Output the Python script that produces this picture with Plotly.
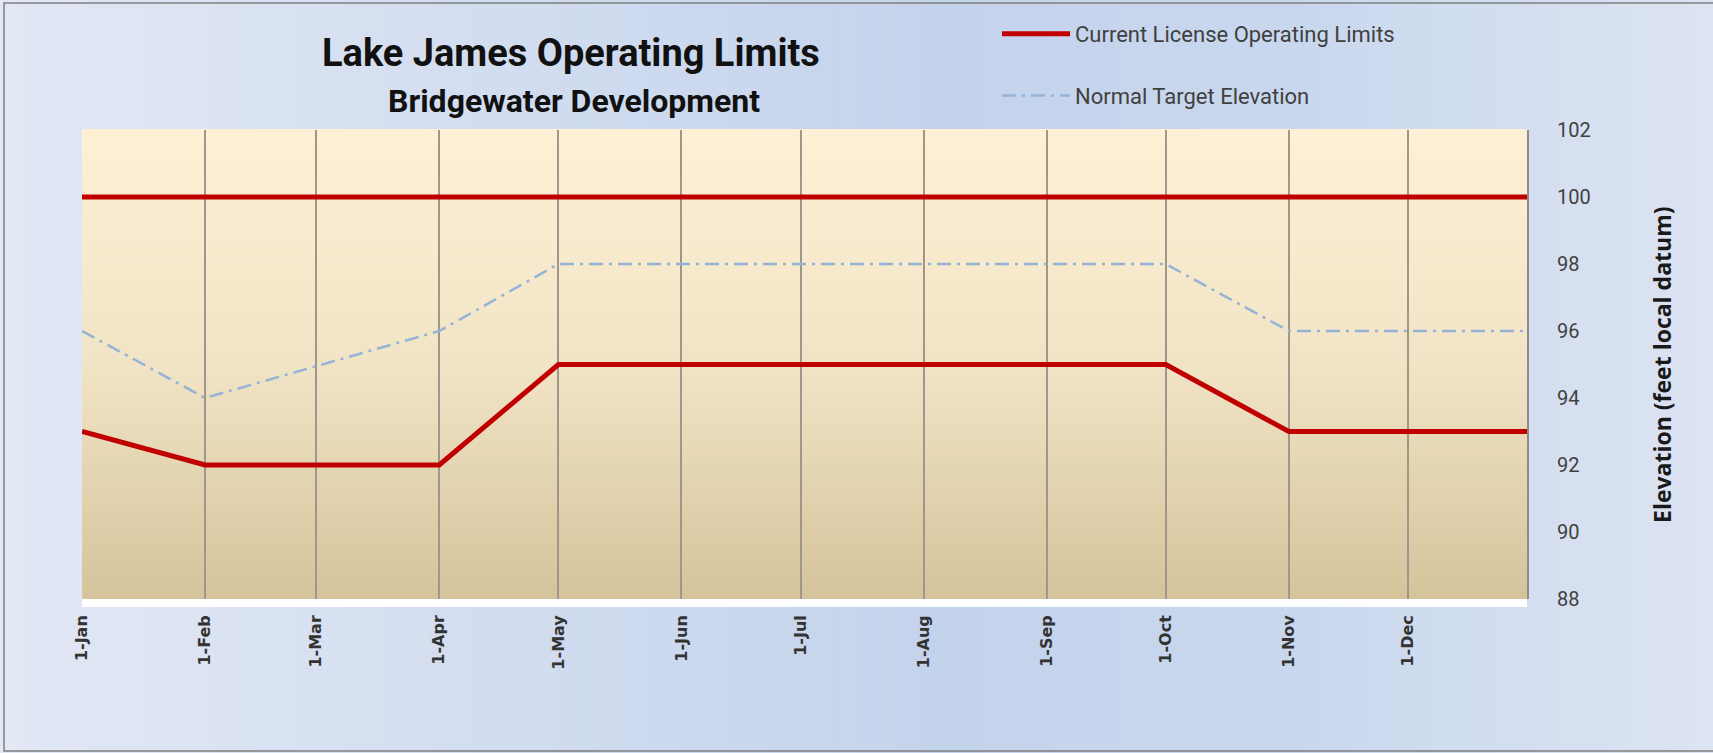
import plotly.graph_objects as go

# ---------------- data ----------------
upper_dates = ["2021-01-01", "2021-12-31"]
upper_vals = [100, 100]

lower_dates = ["2021-01-01", "2021-02-01", "2021-04-01", "2021-05-01",
               "2021-10-01", "2021-11-01", "2021-12-31"]
lower_vals = [93, 92, 92, 95, 95, 93, 93]

target_dates = ["2021-01-01", "2021-02-01", "2021-04-01", "2021-05-01",
                "2021-10-01", "2021-11-01", "2021-12-31"]
target_vals = [96, 94, 96, 98, 98, 96, 96]

y_ticks = [88, 90, 92, 94, 96, 98, 100, 102]

W, H = 1713, 753
ML, MR, MT, MB = 82, 186, 130, 154
PW, PH = W - ML - MR, H - MT - MB


def px_x(p):
    return (p - ML) / PW


def px_y(p):
    return (H - MB - p) / PH


def lerp(c1, c2, t):
    return "#%02x%02x%02x" % tuple(int(round(a + (b - a) * t)) for a, b in zip(c1, c2))


def hx(s):
    s = s.lstrip("#")
    return tuple(int(s[i:i + 2], 16) for i in (0, 2, 4))


shapes = []
# paper gradient (vertical bands)
stops = [(0.0, hx("#e2e8f4")), (0.55, hx("#c4d3ec")), (0.75, hx("#c9d7ee")), (1.0, hx("#dce4f2"))]
N = 80
for i in range(N):
    t0, t1 = i / N, (i + 1) / N
    tm = (t0 + t1) / 2
    for j in range(len(stops) - 1):
        if stops[j][0] <= tm <= stops[j + 1][0]:
            a, b = stops[j], stops[j + 1]
            col = lerp(a[1], b[1], (tm - a[0]) / (b[0] - a[0]))
            break
    shapes.append(dict(type="rect", xref="paper", yref="paper", layer="below",
                       x0=px_x(t0 * W), x1=px_x(t1 * W + 1), y0=px_y(H), y1=px_y(0),
                       fillcolor=col, line=dict(width=0)))

# white glow strip under plot
shapes.append(dict(type="rect", xref="paper", yref="paper", layer="below",
                   x0=0, x1=1, y0=px_y(607), y1=0,
                   fillcolor="#ffffff", line=dict(width=0)))

# plot area gradient (horizontal bands)
top_c, mid_c, bot_c = hx("#fdf0d5"), hx("#f1e4c6"), hx("#d5c39b")
M = 80
for i in range(M):
    t0, t1 = i / M, (i + 1) / M
    tm = (t0 + t1) / 2  # 0 bottom, 1 top
    if tm < 0.5:
        col = lerp(bot_c, mid_c, tm / 0.5)
    else:
        col = lerp(mid_c, top_c, (tm - 0.5) / 0.5)
    shapes.append(dict(type="rect", xref="paper", yref="paper", layer="below",
                       x0=0, x1=1, y0=t0, y1=t1 + 0.002,
                       fillcolor=col, line=dict(width=0)))

# outer frame
shapes.append(dict(type="rect", xref="paper", yref="paper", layer="above",
                   x0=px_x(4), x1=px_x(W + 5), y0=px_y(H - 2), y1=px_y(3),
                   fillcolor="rgba(0,0,0,0)", line=dict(color="#7f7f7f", width=1.5)))

fig = go.Figure()
red = "#c00000"
fig.add_trace(go.Scatter(x=upper_dates, y=upper_vals, mode="lines",
                         line=dict(color=red, width=5),
                         name="Current License Operating Limits",
                         legendgroup="a", showlegend=True))
fig.add_trace(go.Scatter(x=lower_dates, y=lower_vals, mode="lines",
                         line=dict(color=red, width=5),
                         name="Current License Operating Limits",
                         legendgroup="a", showlegend=False))
fig.add_trace(go.Scatter(x=target_dates, y=target_vals, mode="lines",
                         line=dict(color="#95b3d7", width=2.5, dash="14px,6px,3px,6px"),
                         name="Normal Target Elevation",
                         legendgroup="b", showlegend=True))

font_main = "Roboto, Liberation Sans, sans-serif"

fig.update_layout(
    width=W, height=H,
    margin=dict(l=ML, r=MR, t=MT, b=MB, pad=0),
    paper_bgcolor="#d3ddef",
    plot_bgcolor="rgba(0,0,0,0)",
    shapes=shapes,
    showlegend=True,
    legend=dict(x=px_x(997), y=px_y(13), xanchor="left", yanchor="top",
                bgcolor="rgba(0,0,0,0)", itemwidth=68, tracegroupgap=30,
                font=dict(family=font_main, size=22, color="#404040")),
    xaxis=dict(type="date", range=["2021-01-01", "2021-12-31"],
               tick0="2021-01-01", dtick="M1", tickformat="%-d-%b",
               tickangle=-90, showgrid=True, gridcolor="#9e978a", gridwidth=2,
               zeroline=False, showline=False, ticks="", ticklabelstandoff=12,
               tickfont=dict(family="DejaVu Sans", size=16, color="#333333", weight="bold")),
    yaxis=dict(range=[88, 102], tickvals=y_ticks, side="right", showgrid=False,
               zeroline=False, showline=True, linecolor="#8c8c8c", linewidth=2,
               ticks="", ticklabelstandoff=24,
               tickfont=dict(family=font_main, size=20, color="#404040")),
    annotations=[
        dict(text="<b>Lake James Operating Limits</b>", xref="paper", yref="paper",
             x=px_x(571), y=px_y(53), xanchor="center", yanchor="middle", showarrow=False,
             font=dict(family=font_main, size=38, color="#111111")),
        dict(text="<b>Bridgewater Development</b>", xref="paper", yref="paper",
             x=px_x(574), y=px_y(101), xanchor="center", yanchor="middle", showarrow=False,
             font=dict(family=font_main, size=32, color="#111111")),
        dict(text="<b>Elevation (feet local datum)</b>", xref="paper", yref="paper",
             x=px_x(1662), y=px_y(365), xanchor="center", yanchor="middle", showarrow=False,
             textangle=-90,
             font=dict(family="Open Sans, DejaVu Sans, sans-serif", size=23, color="#1a1a1a")),
    ],
)

fig.write_html("out.html", config={"displayModeBar": False},
               post_script="document.body.style.margin='0px';")
